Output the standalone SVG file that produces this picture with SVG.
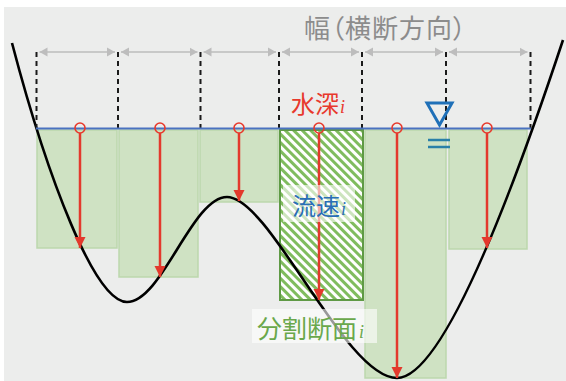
<svg xmlns="http://www.w3.org/2000/svg" width="566" height="381" viewBox="0 0 566 381">
  <style>
    .cell { fill: #cfe2c3; stroke: #bcd7ad; stroke-width: 1.5; }
    .dash { stroke: #1a1a1a; stroke-width: 2; stroke-dasharray: 5 4; fill: none; }
    .width { stroke: #bdbdbd; stroke-width: 1.5; fill: none; marker-start: url(#gs); marker-end: url(#ge); }
    .depth { stroke: #e3392c; stroke-width: 2.5; fill: none; marker-end: url(#re); }
    .probe { stroke: #e8392c; stroke-width: 1.6; fill: none; }
    .jp { font-family: "Noto Sans CJK JP", "Noto Sans", sans-serif; }
    .title { font-feature-settings: "palt"; letter-spacing: 1px; }
    .idx { font-family: "Liberation Serif", serif; font-style: italic; }
    .tag { fill: #ffffff; fill-opacity: 0.6; }
  </style>
  <defs>
    <marker id="ge" markerUnits="userSpaceOnUse" markerWidth="10" markerHeight="10" refX="8" refY="5" orient="auto">
      <path d="M0,0.5 L8,5 L0,9.5 Z" fill="#bdbdbd"/>
    </marker>
    <marker id="gs" markerUnits="userSpaceOnUse" markerWidth="10" markerHeight="10" refX="0" refY="5" orient="auto">
      <path d="M8,0.5 L0,5 L8,9.5 Z" fill="#bdbdbd"/>
    </marker>
    <marker id="re" markerUnits="userSpaceOnUse" markerWidth="12" markerHeight="12" refX="11" refY="6" orient="auto">
      <path d="M0,0.5 L11,6 L0,11.5 Z" fill="#e3392c"/>
    </marker>
    <pattern id="hatch" patternUnits="userSpaceOnUse" width="6" height="6" patternTransform="rotate(-45)">
      <rect width="6" height="6" fill="#ffffff"/>
      <rect x="0" y="0" width="3" height="6" fill="#80bc5e"/>
    </pattern>
  </defs>

  <rect x="0" y="0" width="566" height="381" fill="#ffffff"/>
  <rect x="4" y="7" width="562" height="374" fill="#ecedec"/>

  <g id="title">
    <text class="jp title" x="304" y="38" font-size="26" fill="#8c8c8c">幅（横断方向）</text>
  </g>

  <g id="cells">
    <rect id="cell1" class="cell" x="37" y="130" width="80" height="118"/>
    <rect id="cell2" class="cell" x="119" y="130" width="79" height="147"/>
    <rect id="cell3" class="cell" x="200" y="130" width="78" height="72"/>
    <rect id="cell5" class="cell" x="365" y="130" width="81" height="248"/>
    <rect id="cell6" class="cell" x="449" y="130" width="78" height="119"/>
    <rect id="cell4" x="280" y="130" width="83" height="170" fill="url(#hatch)" stroke="#5f9a45" stroke-width="2"/>
  </g>

  <g id="riverbed">
    <path d="M12,43 C48,180 95,302 127,302 C162,302 192,197 227,197 C270,197 345,378 397,378 C440,378 505,215 563,40" fill="none" stroke="#000000" stroke-width="2.6"/>
  </g>

  <g id="connectors">
    <line class="dash" x1="36.5" y1="52" x2="36.5" y2="128"/>
    <line class="dash" x1="118" y1="52" x2="118" y2="128"/>
    <line class="dash" x1="200.5" y1="52" x2="200.5" y2="128"/>
    <line class="dash" x1="279" y1="52" x2="279" y2="128"/>
    <line class="dash" x1="362" y1="52" x2="362" y2="128"/>
    <line class="dash" x1="446" y1="52" x2="446" y2="128"/>
    <line class="dash" x1="530.5" y1="52" x2="530.5" y2="128"/>

    <line class="width" x1="39.5" y1="52" x2="115" y2="52"/>
    <line class="width" x1="121" y1="52" x2="197.5" y2="52"/>
    <line class="width" x1="203.5" y1="52" x2="276" y2="52"/>
    <line class="width" x1="282" y1="52" x2="359" y2="52"/>
    <line class="width" x1="365" y1="52" x2="443" y2="52"/>
    <line class="width" x1="449" y1="52" x2="527.5" y2="52"/>

    <line x1="36" y1="128.5" x2="531" y2="128.5" stroke="#4a72c0" stroke-width="2"/>

    <line class="depth" x1="80" y1="133" x2="80" y2="248"/>
    <line class="depth" x1="160" y1="133" x2="160" y2="277"/>
    <line class="depth" x1="239" y1="133" x2="239" y2="201"/>
    <line class="depth" x1="319" y1="133" x2="319" y2="300"/>
    <line class="depth" x1="397" y1="133" x2="397" y2="378"/>
    <line class="depth" x1="487" y1="133" x2="487" y2="248"/>

    <circle class="probe" cx="80" cy="128" r="5"/>
    <circle class="probe" cx="160" cy="128" r="5"/>
    <circle class="probe" cx="239" cy="128" r="5"/>
    <circle class="probe" cx="319" cy="128" r="5"/>
    <circle class="probe" cx="397" cy="128" r="5"/>
    <circle class="probe" cx="487" cy="128" r="5"/>
  </g>

  <g id="water-level">
    <path d="M427,103 L452,103 L439.5,125 Z" fill="none" stroke="#1f70b8" stroke-width="3" stroke-linejoin="miter"/>
    <line x1="428" y1="140" x2="450" y2="140" stroke="#2a80a8" stroke-width="2.5"/>
    <line x1="428" y1="147" x2="450" y2="147" stroke="#2a80a8" stroke-width="2.5"/>
  </g>

  <g id="label-depth">
    <text x="291" y="113" font-size="24" fill="#e8392c"><tspan class="jp">水深</tspan><tspan class="idx" font-size="18" dx="1">i</tspan></text>
  </g>

  <g id="label-velocity">
    <rect class="tag" x="283" y="185" width="72" height="37"/>
    <text x="292" y="215" font-size="24" fill="#2a6fb5"><tspan class="jp">流速</tspan><tspan class="idx" font-size="18" dx="1">i</tspan></text>
  </g>

  <g id="label-section">
    <rect class="tag" x="252" y="309" width="125" height="34"/>
    <text x="257" y="338" font-size="25" fill="#6aa84b"><tspan class="jp">分割断面</tspan><tspan class="idx" font-size="18" dx="2">i</tspan></text>
  </g>
</svg>
